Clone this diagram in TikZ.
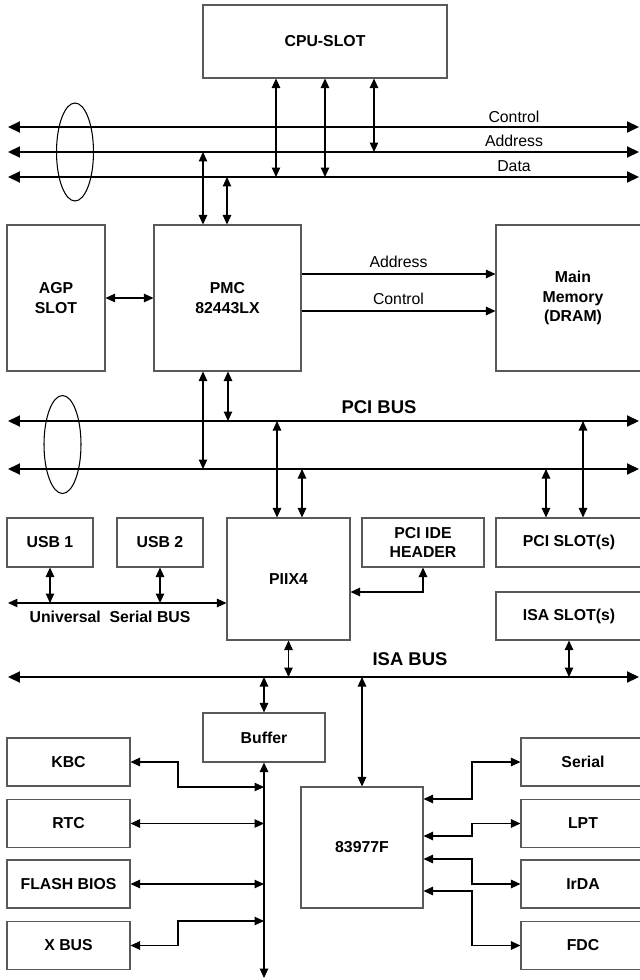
\documentclass[tikz,border=0pt]{standalone}
\usepackage{fontspec}
\setmainfont{Liberation Sans}
\usetikzlibrary{arrows.meta, shapes.geometric}
\tikzstyle{chip} = [draw=black!65, line width=0.6pt, rectangle, inner sep=0pt, align=center, font=\fontsize{9}{11}\selectfont\bfseries]
\tikzstyle{twoway} = [line width=0.6pt, {Triangle[length=0.19cm,width=0.17cm]}-{Triangle[length=0.19cm,width=0.17cm]}]
\tikzstyle{oneway} = [line width=0.6pt, -{Triangle[length=0.19cm,width=0.17cm]}]
\tikzstyle{bus} = [line width=1.2pt, {Triangle[length=0.24cm,width=0.22cm]}-{Triangle[length=0.24cm,width=0.22cm]}]
\tikzstyle{tag} = [inner sep=0pt, font=\fontsize{9}{11}\selectfont]
\tikzstyle{boldtag} = [inner sep=0pt, font=\fontsize{9}{11}\selectfont\bfseries]
\tikzstyle{bustag} = [inner sep=0pt, font=\fontsize{10.5}{12}\selectfont\bfseries]
\tikzstyle{group} = [draw, ellipse, line width=0.6pt, inner sep=0pt, minimum width=0.74cm, minimum height=1.96cm]

\begin{document}
\begin{tikzpicture}[x=0.02cm, y=-0.02cm]
\useasboundingbox (0,0) rectangle (639,980);

% --- CPU and system bus ---
\node[chip, minimum width=4.88cm, minimum height=1.46cm] (cpu) at (325,41.5) {CPU-SLOT};

\coordinate (ctlW) at (8,127);  \coordinate (ctlE) at (639,127);
\coordinate (adrW) at (8,152);  \coordinate (adrE) at (639,152);
\coordinate (datW) at (8,177);  \coordinate (datE) at (639,177);
\draw[bus] (ctlW) -- (ctlE);
\draw[bus] (adrW) -- (adrE);
\draw[bus] (datW) -- (datE);
\node[group] (sysgrp) at (75,152) {};

\node[tag] (ctlT) at (514,117) {Control};
\node[tag] (adrT) at (514,141) {Address};
\node[tag] (datT) at (514,166) {Data};

\coordinate (c1) at (276,177);
\coordinate (c2) at (325,177);
\coordinate (c3) at (374,152);
\draw[twoway] (cpu.south -| c1) -- (c1);
\draw[twoway] (cpu.south -| c2) -- (c2);
\draw[twoway] (cpu.south -| c3) -- (c3);

% --- north bridge ---
\node[chip, minimum width=1.96cm, minimum height=2.92cm] (agp) at (56,298) {AGP\\SLOT};
\node[chip, minimum width=2.94cm, minimum height=2.92cm] (pmc) at (227.5,298) {PMC\\82443LX};
\node[chip, minimum width=3.08cm, minimum height=2.92cm] (mem) at (573,298) {Main\\Memory\\(DRAM)};

\coordinate (p1) at (203,152);
\coordinate (p2) at (227,177);
\draw[twoway] (p1) -- (pmc.north -| p1);
\draw[twoway] (p2) -- (pmc.north -| p2);
\draw[twoway] (agp.east) -- (pmc.west);
\draw[oneway] ([yshift=0.48cm]pmc.east) -- node[tag, above=0.12cm] (madrT) {Address} ([yshift=0.48cm]pmc.east -| mem.west);
\draw[oneway] ([yshift=-0.26cm]pmc.east) -- node[tag, above=0.12cm] (mctlT) {Control} ([yshift=-0.26cm]pmc.east -| mem.west);

% --- PCI bus ---
\coordinate (pciaW) at (8,421);  \coordinate (pciaE) at (639,421);
\coordinate (pcibW) at (8,469);  \coordinate (pcibE) at (639,469);
\draw[bus] (pciaW) -- (pciaE);
\draw[bus] (pcibW) -- (pcibE);
\node[group] (pcigrp) at (62.5,444.5) {};
\node[bustag] (pciT) at (379,407) {PCI BUS};

\node[chip, minimum width=1.72cm, minimum height=0.98cm] (usb1) at (50,542.5) {USB 1};
\node[chip, minimum width=1.72cm, minimum height=0.98cm] (usb2) at (160,542.5) {USB 2};
\node[chip, minimum width=2.46cm, minimum height=2.44cm] (piix) at (288.5,579) {PIIX4};
\node[chip, minimum width=2.44cm, minimum height=0.98cm] (ide) at (423,542.5) {PCI IDE\\HEADER};
\node[chip, minimum width=2.92cm, minimum height=0.98cm] (pcislot) at (569,542.5) {PCI SLOT(s)};
\node[chip, minimum width=2.92cm, minimum height=0.96cm] (isaslot) at (569,616) {ISA SLOT(s)};

\coordinate (q1) at (203,469);
\coordinate (q2) at (228,421);
\coordinate (r1) at (277,421);
\coordinate (r2) at (302,469);
\coordinate (s1) at (546,469);
\coordinate (s2) at (583,421);
\draw[twoway] (pmc.south -| q1) -- (q1);
\draw[twoway] (pmc.south -| q2) -- (q2);
\draw[twoway] (r1) -- (piix.north -| r1);
\draw[twoway] (r2) -- (piix.north -| r2);
\draw[twoway] (s1) -- (pcislot.north -| s1);
\draw[twoway] (s2) -- (pcislot.north -| s2);

% USB
\coordinate (usbW) at (8,603);
\draw[twoway] (usbW) -- (usbW -| piix.west);
\draw[twoway] (usb1.south) -- (usb1.south |- usbW);
\draw[twoway] (usb2.south) -- (usb2.south |- usbW);
\node[boldtag] (usbT) at (110,617) {Universal \ Serial BUS};

% IDE
\coordinate (ideK) at (423,592);
\draw[twoway] (ide.south) -- (ideK) -- (ideK -| piix.east);

% --- ISA bus ---
\coordinate (isaW) at (8,677);  \coordinate (isaE) at (639,677);
\draw[bus] (isaW) -- (isaE);
\node[bustag] (isaT) at (410,659) {ISA BUS};

\node[chip, minimum width=2.44cm, minimum height=0.98cm] (buffer) at (264,737.5) {Buffer};
\node[chip, minimum width=2.44cm, minimum height=2.42cm] (sio) at (362,847.5) {83977F};

\draw[twoway] (piix.south) -- (piix.south |- isaW);
\draw[twoway] (isaslot.south) -- (isaslot.south |- isaW);
\draw[twoway] (buffer.north) -- (buffer.north |- isaW);
\draw[twoway] (sio.north |- isaW) -- (sio.north);

% X bus side
\node[chip, minimum width=2.46cm, minimum height=0.96cm] (kbc) at (68.5,762) {KBC};
\node[chip, minimum width=2.46cm, minimum height=0.96cm] (rtc) at (68.5,823.5) {RTC};
\node[chip, minimum width=2.46cm, minimum height=0.96cm] (flash) at (68.5,884) {FLASH BIOS};
\node[chip, minimum width=2.46cm, minimum height=0.96cm] (xbus) at (68.5,945.5) {X BUS};

\coordinate (xbEnd) at (264,978);
\coordinate (kb) at (178,787);
\coordinate (xb) at (178,921);
\draw[twoway] (buffer.south) -- (xbEnd);
\draw[twoway] (kbc.east) -| (kb) -- (kb -| buffer.south);
\draw[twoway] (rtc.east) -- (rtc.east -| buffer.south);
\draw[twoway] (flash.east) -- (flash.east -| buffer.south);
\draw[twoway] (xb -| buffer.south) -- (xb) |- (xbus.east);

% I/O side
\node[chip, minimum width=2.48cm, minimum height=0.96cm] (serial) at (583,762) {Serial};
\node[chip, minimum width=2.48cm, minimum height=0.96cm] (lpt) at (583,823.5) {LPT};
\node[chip, minimum width=2.48cm, minimum height=0.96cm] (irda) at (583,884) {IrDA};
\node[chip, minimum width=2.48cm, minimum height=0.96cm] (fdc) at (583,945.5) {FDC};

\coordinate (se) at (472,799);
\coordinate (lp) at (472,836);
\coordinate (ir) at (472,859);
\coordinate (fd) at (472,891);
\draw[twoway] (se -| sio.east) -- (se) |- (serial.west);
\draw[twoway] (lp -| sio.east) -- (lp) |- (lpt.west);
\draw[twoway] (ir -| sio.east) -- (ir) |- (irda.west);
\draw[twoway] (fd -| sio.east) -- (fd) |- (fdc.west);

\end{tikzpicture}
\end{document}
